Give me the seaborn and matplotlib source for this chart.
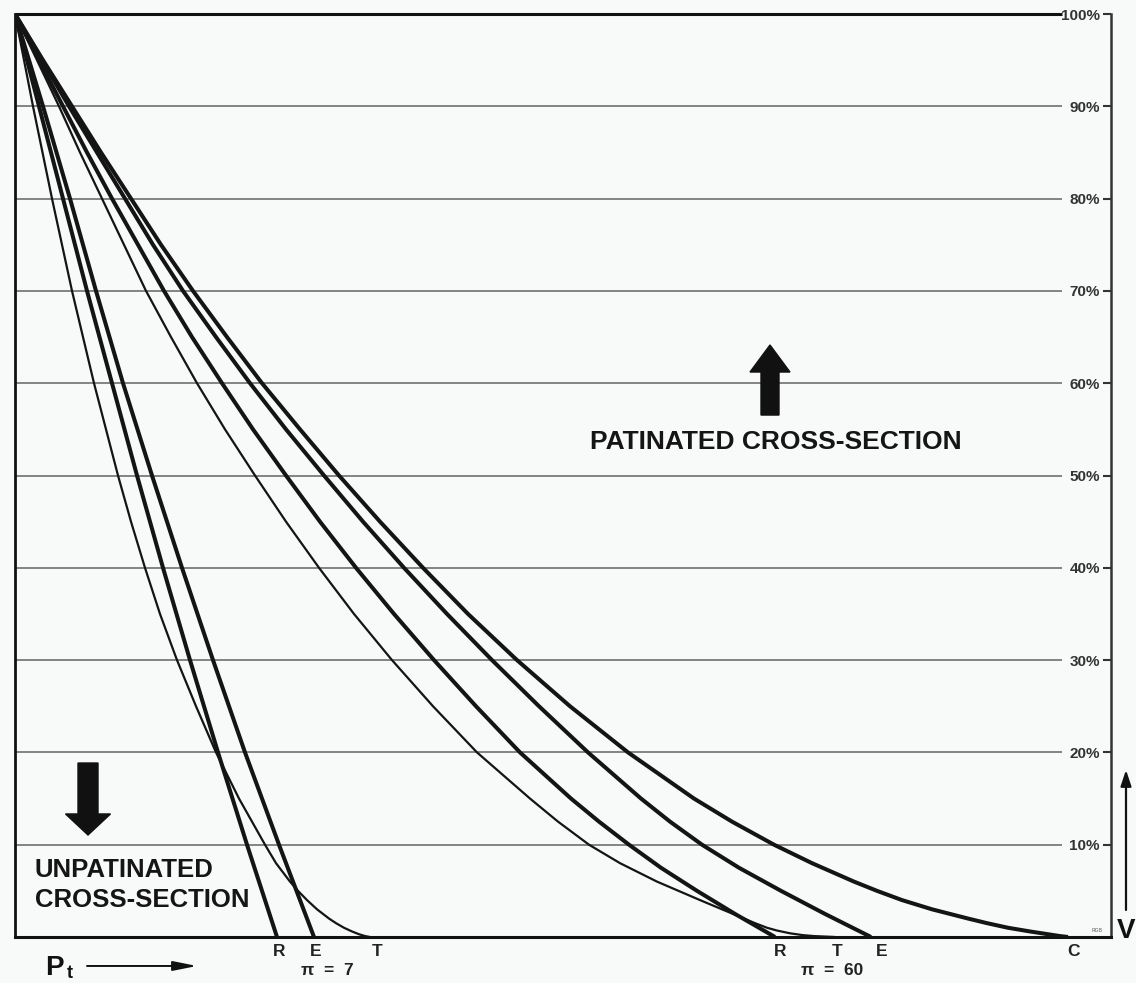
import matplotlib
matplotlib.use("Agg")
import matplotlib.pyplot as plt
import numpy as np
import pandas as pd
import seaborn as sns
from matplotlib.patches import FancyArrow

# ---------------- data (P_t position along x, V in %) ----------------
V_T7 = [100, 95, 90, 85, 80, 75, 70, 65, 60, 55, 50, 45, 40, 35, 30, 25, 20, 15,
        10, 8, 6, 5, 4, 3, 2, 1.5, 1, 0.6, 0.3, 0.1, 0]
P_T7 = [0, 9, 18, 27.5, 37, 47, 57, 68, 79, 91, 103, 116, 130, 145, 162, 181, 201, 224,
        250, 261, 275, 283, 292, 302, 314, 321, 329, 337, 344, 350, 355]

V_R7 = [100, 90, 80, 70, 60, 50, 40, 30, 20, 10, 0]
P_R7 = [0, 24, 48, 72, 97, 122, 148, 175, 203, 232, 262]

V_E7 = [100, 90, 80, 70, 60, 50, 40, 30, 20, 10, 0]
P_E7 = [0, 28, 55, 81, 108, 137, 167, 198, 230, 264, 299]

V_T60 = [100, 95, 90, 85, 80, 75, 70, 65, 60, 55, 50, 45, 40, 35, 30, 25, 20, 15,
         12.5, 10, 8, 6, 4, 3, 2, 1.5, 1, 0.7, 0.4, 0.2, 0.1, 0]
P_T60 = [0, 22, 44, 65, 87, 109, 131, 156, 182, 210, 240, 271, 304, 339, 377, 418, 462, 515,
         543, 574, 605, 642, 685, 707, 729, 740, 752, 762, 775, 788, 799, 820]

V_R60 = [100, 95, 90, 85, 80, 75, 70, 65, 60, 55, 50, 45, 40, 35, 30, 25, 20, 15,
         12.5, 10, 7.5, 5, 2.5, 0]
P_R60 = [0, 24, 48, 72, 97, 123, 149, 177, 207, 238, 271, 305, 341, 379, 419, 461, 505, 556,
         584, 614, 646, 682, 720, 760]

V_E60 = [100, 95, 90, 85, 80, 75, 70, 65, 60, 55, 50, 45, 40, 35, 30, 25, 20, 15,
         12.5, 10, 7.5, 5, 2.5, 0]
P_E60 = [0, 27, 54, 82, 110, 138, 168, 201, 235, 271, 309, 348, 389, 432, 477, 524, 573, 626,
         655, 687, 724, 766, 810, 856]

V_C = [100, 95, 90, 85, 80, 75, 70, 65, 60, 55, 50, 45, 40, 35, 30, 25, 20, 15,
       12.5, 10, 8, 6, 5, 4, 3, 2, 1.5, 1, 0.6, 0.3, 0.1, 0]
P_C = [0, 28, 57, 86, 116, 146, 178, 212, 247, 285, 324, 365, 408, 453, 502, 555, 613, 679,
       717, 759, 797, 839, 862, 887, 917, 953, 972, 993, 1015, 1033, 1045, 1053]

curve_names = ["T7", "R7", "E7", "T60", "R60", "E60", "C"]
curve_V = [V_T7, V_R7, V_E7, V_T60, V_R60, V_E60, V_C]
curve_P = [P_T7, P_R7, P_E7, P_T60, P_R60, P_E60, P_C]
curve_thin = [True, False, False, True, False, False, False]

end_labels = ["R", "E", "T", "R", "T", "E", "C"]
end_label_curve = ["R7", "E7", "T7", "R60", "T60", "E60", "C"]
end_label_shift = [2, 2, 7, 5, 2, 11, 5]

pi_labels = ["π  =  7", "π  =  60"]
pi_label_x = [312, 817]

y_ticks = [10, 20, 30, 40, 50, 60, 70, 80, 90, 100]
y_tick_labels = [f"{v}%" for v in y_ticks]

# ---------------- styling ----------------
BG = "#f8f9f9"
INK = "#141414"
sns.set_style("white")
plt.rcParams["font.family"] = ["Liberation Sans", "DejaVu Sans"]
plt.rcParams["font.weight"] = "bold"

fig = plt.figure(figsize=(11.36, 9.83), dpi=100, facecolor=BG)
ax = fig.add_axes([15 / 1136, 46 / 983, 1096 / 1136, 923 / 983])
ax.set_facecolor(BG)

# grid lines (stop short of the right-hand labels)
grid_end = 1047
ax.hlines(y_ticks[:-1], 0, grid_end, colors="#7a7a7a", lw=1.3, zorder=1)
ax.hlines(100, 0, grid_end, colors="#111111", lw=2.2, zorder=3, clip_on=False)

# curves
for name, V, P, thin in zip(curve_names, curve_V, curve_P, curve_thin):
    df = pd.DataFrame({"P": P, "V": V})
    sns.lineplot(data=df, x="P", y="V", ax=ax, color=INK,
                 lw=1.6 if thin else 2.9, sort=False, estimator=None,
                 solid_capstyle="butt", solid_joinstyle="round", zorder=4)

ax.set_xlim(0, 1096)
ax.set_ylim(0, 100)
ax.set_xlabel("")
ax.set_ylabel("")
ax.set_xticks([])

# right axis ticks with labels inside
ax.set_yticks(y_ticks)
ax.set_yticklabels(y_tick_labels)
ax.yaxis.tick_right()
ax.tick_params(axis="y", direction="in", length=6, width=1.5, color="#333333",
               pad=-8, labelsize=11, labelcolor="#333333")
for lbl in ax.get_yticklabels():
    lbl.set_horizontalalignment("right")
    lbl.set_fontweight("bold")

for side in ["left", "bottom", "right"]:
    ax.spines[side].set_visible(True)
    ax.spines[side].set_color("#111111")
ax.spines["left"].set_linewidth(2.0)
ax.spines["bottom"].set_linewidth(2.2)
ax.spines["right"].set_linewidth(1.8)
ax.spines["right"].set_color("#333333")
ax.spines["top"].set_visible(False)

# end labels
ends = {n: P[-1] for n, P in zip(curve_names, curve_P)}
for lab, cname, sh in zip(end_labels, end_label_curve, end_label_shift):
    ax.text(ends[cname] + sh, -2.05, lab, ha="center", va="baseline",
            fontsize=12.5, fontweight="bold", color="#222222", clip_on=False)
for lab, x in zip(pi_labels, pi_label_x):
    ax.text(x, -4.15, lab, ha="center", va="baseline",
            fontsize=12.5, fontweight="bold", color="#222222", clip_on=False)

# annotations
ax.text(575, 52.9, "PATINATED CROSS-SECTION", ha="left", va="baseline",
        fontsize=19, fontweight="bold", color="#151515")
ax.text(20, 6.5, "UNPATINATED", ha="left", va="baseline",
        fontsize=18.5, fontweight="bold", color="#151515")
ax.text(20, 3.25, "CROSS-SECTION", ha="left", va="baseline",
        fontsize=18.5, fontweight="bold", color="#151515")

ax.add_patch(FancyArrow(73, 18.85, 0, -7.8, width=20, head_width=45,
                        head_length=2.28, length_includes_head=True,
                        color="#111111", zorder=5))
ax.add_patch(FancyArrow(755, 56.55, 0, 7.59, width=18, head_width=40,
                        head_length=2.93, length_includes_head=True,
                        color="#111111", zorder=5))

# P_t axis label with arrow
ax.text(30, -4.15, "P", ha="left", va="baseline", fontsize=20,
        fontweight="bold", color="#111111", clip_on=False)
ax.text(52, -4.45, "t", ha="left", va="baseline", fontsize=13,
        fontweight="bold", color="#111111", clip_on=False)
ax.annotate("", xy=(182, -3.14), xytext=(72, -3.14),
            arrowprops=dict(arrowstyle="-|>,head_length=0.9,head_width=0.18",
                            color="#111111", lw=1.4, mutation_scale=16,
                            shrinkA=0, shrinkB=0),
            annotation_clip=False)

# V axis label with arrow
ax.text(1111, -0.1, "V", ha="center", va="baseline", fontsize=20,
        fontweight="bold", color="#111111", clip_on=False)
ax.annotate("", xy=(1111, 18.1), xytext=(1111, 2.93),
            arrowprops=dict(arrowstyle="-|>,head_length=0.6,head_width=0.2",
                            color="#111111", lw=1.6, mutation_scale=16,
                            shrinkA=0, shrinkB=0),
            annotation_clip=False)

ax.text(1082, 0.75, "RGB", ha="center", va="center", fontsize=3.5,
        color="#888888")

fig.savefig("out.png", dpi=100, facecolor=BG)
